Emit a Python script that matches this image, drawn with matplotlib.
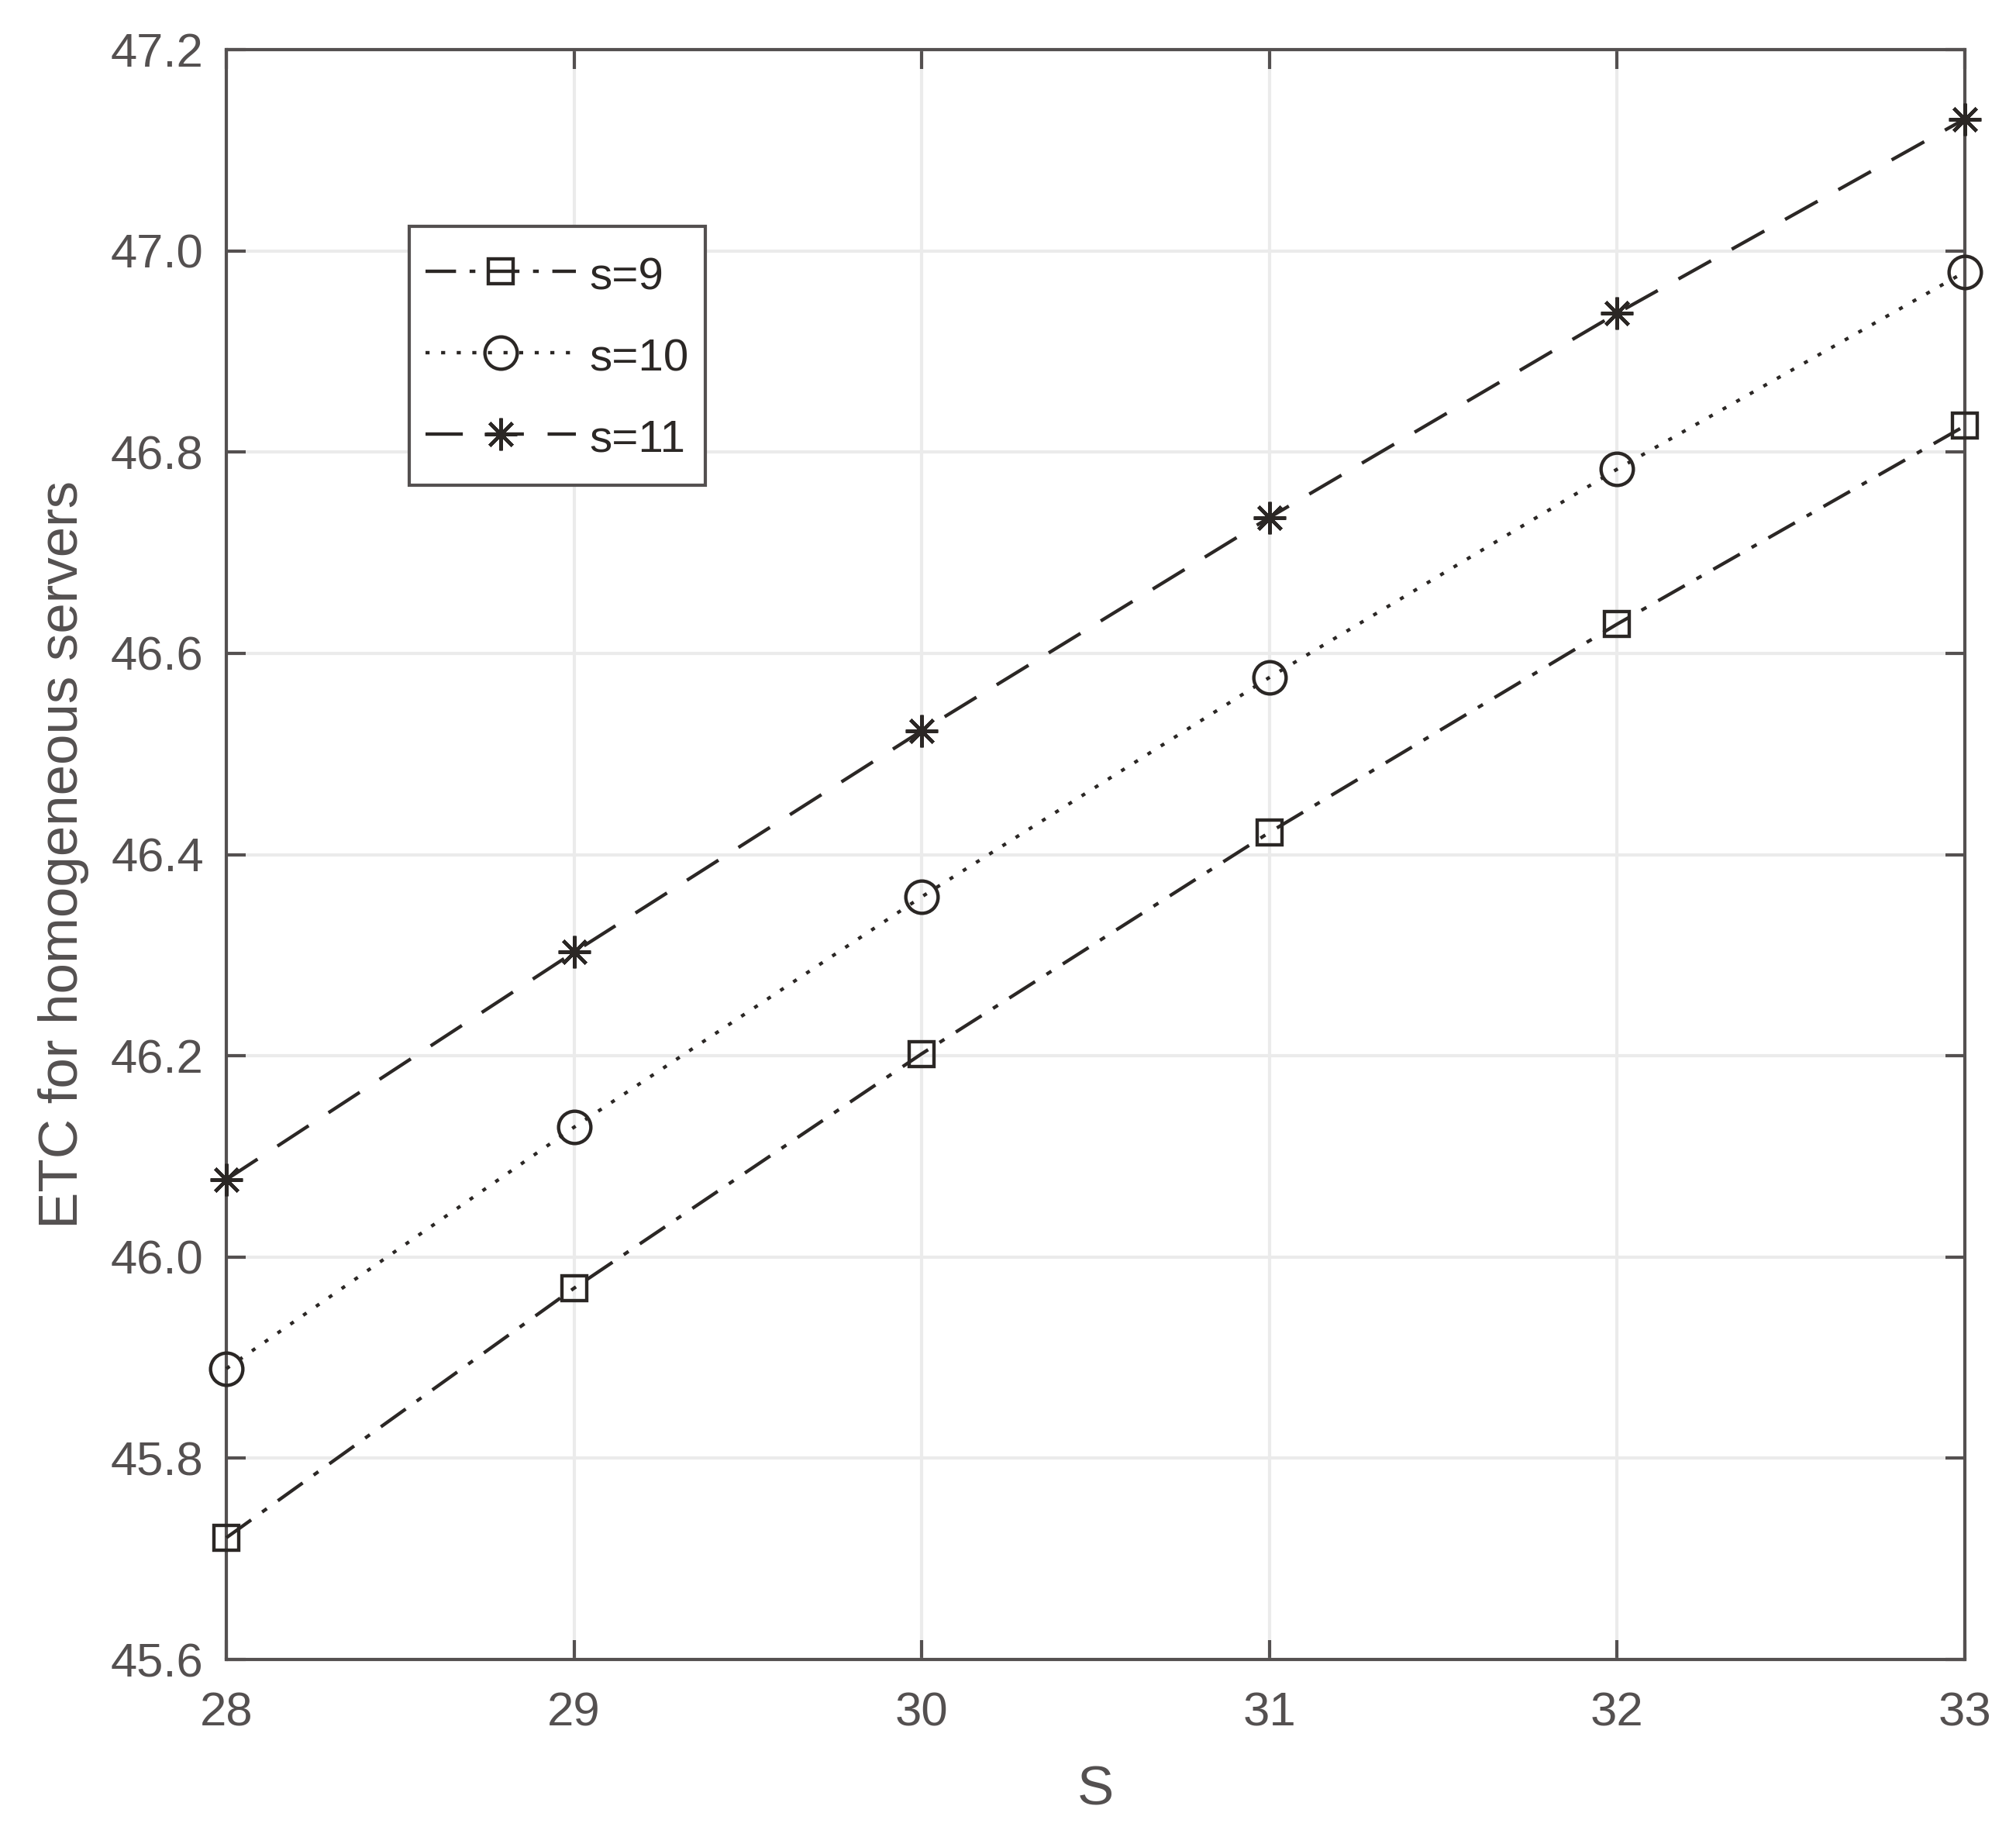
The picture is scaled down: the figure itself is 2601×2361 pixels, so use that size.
import matplotlib
matplotlib.use("Agg")
import matplotlib.pyplot as plt
from matplotlib.ticker import FormatStrFormatter
from matplotlib.legend_handler import HandlerLine2D
from matplotlib.lines import Line2D

plt.rcParams['font.family'] = ['Liberation Sans', 'DejaVu Sans']

S_values = [28, 29, 30, 31, 32, 33]
etc_s9 = [45.721, 45.969, 46.202, 46.422, 46.629, 46.826]
etc_s10 = [45.889, 46.129, 46.358, 46.576, 46.783, 46.979]
etc_s11 = [46.077, 46.303, 46.523, 46.735, 46.938, 47.131]
labels = ['s=9', 's=10', 's=11']
y_ticks = [45.6, 45.8, 46.0, 46.2, 46.4, 46.6, 46.8, 47.0, 47.2]
x_ticks = [28, 29, 30, 31, 32, 33]

AX_COL = '#545050'
LINE_COL = '#2b2725'
GRID_COL = '#ebebeb'


class ShiftedHandler(HandlerLine2D):
    def __init__(self, dy, **kw):
        super().__init__(**kw)
        self.dy = dy

    def create_artists(self, legend, orig_handle, xdescent, ydescent, width, height, fontsize, trans):
        return super().create_artists(legend, orig_handle, xdescent, ydescent + self.dy,
                                      width, height, fontsize, trans)


fig = plt.figure(figsize=(2601 / 300, 2361 / 300), dpi=300)
ax = fig.add_axes([292 / 2601, 1 - 2141 / 2361, (2535 - 292) / 2601, (2141 - 64) / 2361])

common = dict(color=LINE_COL, lw=1.05, mfc='none', mec=LINE_COL, mew=1.05, clip_on=False, zorder=3)
ax.plot(S_values, etc_s9, linestyle=(0, (9, 4, 1.7, 4)), marker='s', ms=7.9, label=labels[0], **common)
ax.plot(S_values, etc_s10, linestyle=(0, (1.2, 3.4)), marker='o', ms=10, label=labels[1], **common)
ax.plot(S_values, etc_s11, linestyle=(0, (11, 7)), marker=(8, 2, 0), ms=10, label=labels[2], **common)

ax.set_xlim(28, 33)
ax.set_ylim(45.6, 47.2)
ax.set_xticks(x_ticks)
ax.set_yticks(y_ticks)
ax.yaxis.set_major_formatter(FormatStrFormatter('%.1f'))

ax.grid(True, color=GRID_COL, lw=1.0, zorder=0)
ax.set_axisbelow(True)

for sp in ax.spines.values():
    sp.set_color(AX_COL)
    sp.set_linewidth(1.0)

ax.tick_params(direction='in', length=6, width=1.0, colors=AX_COL, top=True, right=True,
               labelsize=14.8)
ax.tick_params(axis='x', pad=10)
ax.tick_params(axis='y', pad=7)

ax.set_xlabel('S', fontsize=17, color=AX_COL)
ax.set_ylabel('ETC for homogeneous servers', fontsize=17, color=AX_COL)
ax.xaxis.set_label_coords(0.5, -0.0655)
ax.yaxis.set_label_coords(-0.079, 0.5)

leg = ax.legend(loc='upper left', bbox_to_anchor=(0.105, 0.890), fontsize=14,
                handlelength=3.33, handleheight=1.8, handletextpad=0.3, labelspacing=0.38,
                borderpad=0.36, borderaxespad=0, fancybox=False, framealpha=1,
                edgecolor=AX_COL, numpoints=1,
                handler_map={Line2D: ShiftedHandler(3.2)})
leg.get_frame().set_linewidth(1.0)
for t in leg.get_texts():
    t.set_color(LINE_COL)

fig.savefig('out.png', dpi=300)
